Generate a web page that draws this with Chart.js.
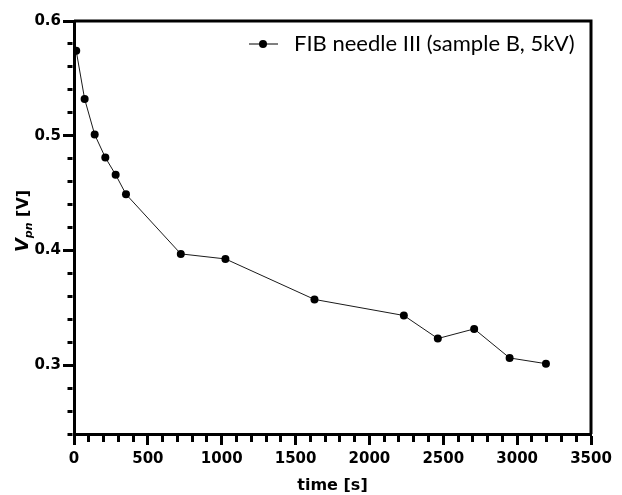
<!DOCTYPE html>
<html>
<head>
<meta charset="utf-8">
<script src="https://cdn.jsdelivr.net/npm/chart.js@4/dist/chart.umd.min.js"></script>
<style>
  body { margin: 0; background: #fff; }
  canvas { display: block; }
</style>
</head>
<body>
<canvas id="vpnChart" width="622" height="495"></canvas>
<script>
// V_pn vs time, FIB needle III (sample B, 5kV)
const time_s = [15, 72, 140, 212, 282, 352, 723, 1025, 1628, 2233, 2463, 2709, 2949, 3195]
const vpn_v = [0.574, 0.532, 0.501, 0.481, 0.466, 0.449, 0.397, 0.3926, 0.3573, 0.3433, 0.3232, 0.3316, 0.3063, 0.3013]
const series_label = 'FIB needle III (sample B, 5kV)'
const x_major = [0, 500, 1000, 1500, 2000, 2500, 3000, 3500]
const y_major = ['0.3', '0.4', '0.5', '0.6']

const points = time_s.map((t, i) => ({x: t, y: vpn_v[i]}))

const TICK_LEN = 11
const AXIS_W = 3

// frame on top/right, legend, y title
const extras = {
  id: 'extras',
  afterDraw(chart) {
    const ctx = chart.ctx
    const a = chart.chartArea
    ctx.save()
    ctx.strokeStyle = '#000'
    ctx.lineWidth = AXIS_W
    ctx.beginPath()
    ctx.moveTo(a.left, a.top)
    ctx.lineTo(a.right, a.top)
    ctx.lineTo(a.right, a.bottom)
    ctx.stroke()

    // legend
    const ly = a.top + 23
    ctx.lineWidth = 1
    ctx.beginPath()
    ctx.moveTo(a.left + 175, ly)
    ctx.lineTo(a.left + 204, ly)
    ctx.stroke()
    ctx.fillStyle = '#000'
    ctx.beginPath()
    ctx.arc(a.left + 189, ly, 4, 0, Math.PI * 2)
    ctx.fill()
    ctx.font = '22px Lato'
    ctx.textBaseline = 'middle'
    ctx.textAlign = 'left'
    ctx.fillText(series_label, a.left + 220, ly)

    // y axis title: V_pn [V]
    ctx.translate(22, 221)
    ctx.rotate(-Math.PI / 2)
    ctx.textBaseline = 'alphabetic'
    const parts = [
      {t: 'V', f: 'italic bold 18px "DejaVu Sans"', dy: 0},
      {t: 'pn', f: 'italic bold 11px "DejaVu Sans"', dy: 4},
      {t: ' [V]', f: 'bold 16px "DejaVu Sans"', dy: 0}
    ]
    let w = 0
    parts.forEach(p => { ctx.font = p.f; w += ctx.measureText(p.t).width })
    let x = -w / 2
    parts.forEach(p => {
      ctx.font = p.f
      ctx.fillText(p.t, x, 6 + p.dy)
      x += ctx.measureText(p.t).width
    })
    ctx.restore()
  }
}

const ctx = document.getElementById('vpnChart').getContext('2d')

new Chart(ctx, {
  type: 'line',
  data: {
    datasets: [{
      label: series_label,
      data: points,
      borderColor: '#1a1a1a',
      borderWidth: 1,
      pointRadius: 4,
      pointBackgroundColor: '#000',
      pointBorderColor: '#000',
      pointBorderWidth: 0,
      tension: 0
    }]
  },
  options: {
    responsive: false,
    animation: false,
    layout: {padding: {left: 0, top: 21, right: 31, bottom: 0}},
    plugins: {
      legend: {display: false},
      tooltip: {enabled: false}
    },
    scales: {
      x: {
        type: 'linear',
        min: 0,
        max: 3500,
        afterFit(scale) { scale.height = 61 },
        border: {display: true, color: '#000', width: AXIS_W},
        grid: {
          drawOnChartArea: false,
          tickLength: TICK_LEN,
          tickColor: '#000',
          tickWidth: 3,
          // minor ticks shorter
          tickBorderDash: c => x_major.includes(c.tick.value) ? [] : [6, 100]
        },
        ticks: {
          stepSize: 100,
          autoSkip: false,
          maxRotation: 0,
          padding: 5,
          color: '#000',
          font: {family: 'DejaVu Sans', size: 15, weight: 'bold'},
          callback: v => x_major.includes(v) ? String(v) : ''
        },
        title: {
          display: true,
          text: 'time [s]',
          color: '#000',
          font: {family: 'DejaVu Sans', size: 16, weight: 'bold'},
          padding: {top: 3, bottom: 0}
        }
      },
      y: {
        type: 'linear',
        min: 0.24,
        max: 0.6,
        afterFit(scale) { scale.width = 74 },
        border: {display: true, color: '#000', width: AXIS_W},
        grid: {
          drawOnChartArea: false,
          tickLength: TICK_LEN,
          tickColor: '#000',
          tickWidth: 3,
          tickBorderDash: c => {
            const lab = c.tick.value.toFixed(2)
            return y_major.some(m => Number(m).toFixed(2) === lab) ? [] : [0, 4.5, 5, 100]
          }
        },
        ticks: {
          stepSize: 0.02,
          autoSkip: false,
          padding: 2,
          color: '#000',
          font: {family: 'DejaVu Sans', size: 15, weight: 'bold'},
          callback: v => {
            const s = v.toFixed(1)
            return (y_major.includes(s) && Math.abs(v - Number(s)) < 1e-6) ? s : ''
          }
        }
      }
    }
  },
  plugins: [extras]
})
</script>
</body>
</html>
